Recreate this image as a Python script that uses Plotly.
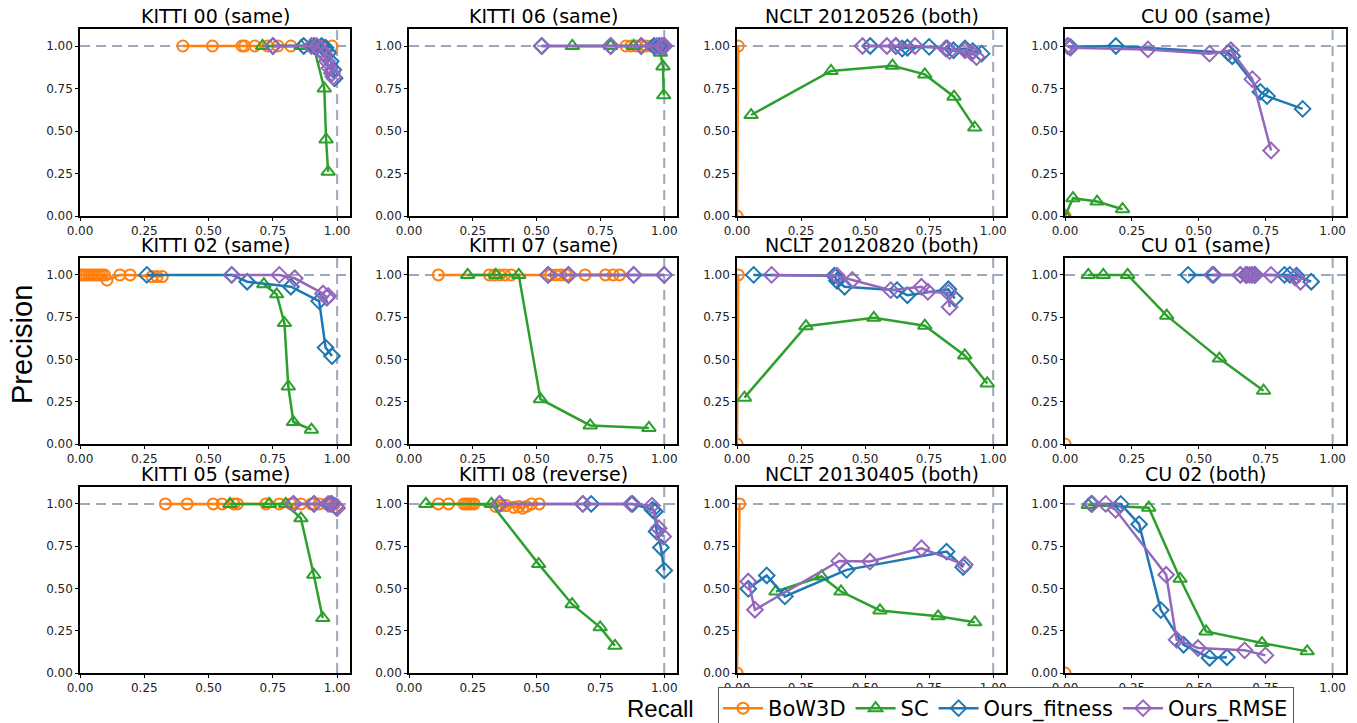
import plotly.graph_objects as go

W, H = 1357, 723

# ---------------- data (recall, precision) ----------------
titles = ["KITTI 00 (same)", "KITTI 06 (same)", "NCLT 20120526 (both)", "CU 00 (same)",
          "KITTI 02 (same)", "KITTI 07 (same)", "NCLT 20120820 (both)", "CU 01 (same)",
          "KITTI 05 (same)", "KITTI 08 (reverse)", "NCLT 20130405 (both)", "CU 02 (both)"]
series_names = ["BoW3D", "SC", "Ours_fitness", "Ours_RMSE"]
tick_vals = [0.0, 0.25, 0.5, 0.75, 1.0]
tick_text = ["0.00", "0.25", "0.50", "0.75", "1.00"]

# KITTI 00
k00_bow_r = [0.40, 0.515, 0.63, 0.64, 0.68, 0.73, 0.77, 0.82, 0.93, 0.95, 0.98]
k00_bow_p = [1.0, 1.0, 1.0, 1.0, 1.0, 1.0, 1.0, 1.0, 1.0, 1.0, 1.0]
k00_sc_r = [0.71, 0.86, 0.91, 0.95, 0.957, 0.965]
k00_sc_p = [1.0, 1.0, 0.99, 0.75, 0.45, 0.26]
k00_fit_r = [0.75, 0.87, 0.91, 0.94, 0.955, 0.965, 0.975, 0.985, 0.99]
k00_fit_p = [1.0, 1.0, 1.0, 1.0, 0.99, 0.96, 0.91, 0.86, 0.81]
k00_rmse_r = [0.75, 0.90, 0.92, 0.935, 0.95, 0.96, 0.97, 0.98, 0.985]
k00_rmse_p = [1.0, 1.0, 1.0, 0.98, 0.95, 0.91, 0.87, 0.84, 0.82]

# KITTI 06
k06_bow_r = [0.85, 0.87, 0.89, 0.91, 0.93, 0.95, 0.97]
k06_bow_p = [1.0, 1.0, 1.0, 1.0, 1.0, 1.0, 1.0]
k06_sc_r = [0.64, 0.79, 0.88, 0.96, 0.985, 0.995, 0.998]
k06_sc_p = [1.0, 1.0, 1.0, 1.0, 0.96, 0.88, 0.71]
k06_fit_r = [0.52, 0.79, 0.91, 0.96, 0.98, 0.99, 1.0]
k06_fit_p = [1.0, 1.0, 1.0, 1.0, 1.0, 1.0, 1.0]
k06_rmse_r = [0.52, 0.79, 0.91, 0.97, 0.99, 1.0]
k06_rmse_p = [1.0, 1.0, 1.0, 1.0, 1.0, 1.0]

# NCLT 20120526
n0526_bow_r = [0.0, 0.005]
n0526_bow_p = [0.0, 1.0]
n0526_sc_r = [0.055, 0.367, 0.607, 0.733, 0.847, 0.928]
n0526_sc_p = [0.594, 0.853, 0.884, 0.833, 0.702, 0.52]
n0526_fit_r = [0.52, 0.62, 0.645, 0.665, 0.75, 0.82, 0.845, 0.89, 0.92, 0.955]
n0526_fit_p = [1.0, 1.0, 0.985, 0.99, 0.995, 0.985, 0.975, 0.985, 0.97, 0.955]
n0526_rmse_r = [0.49, 0.585, 0.62, 0.695, 0.815, 0.83, 0.89, 0.915, 0.935]
n0526_rmse_p = [1.0, 1.0, 1.0, 1.0, 0.985, 0.97, 0.975, 0.96, 0.935]

# CU 00
cu00_bow_r = [0.0]
cu00_bow_p = [0.0]
cu00_sc_r = [0.0, 0.03, 0.12, 0.215]
cu00_sc_p = [0.0, 0.105, 0.085, 0.04]
cu00_fit_r = [0.01, 0.02, 0.19, 0.61, 0.625, 0.73, 0.755, 0.888]
cu00_fit_p = [1.0, 0.995, 1.0, 0.96, 0.94, 0.73, 0.705, 0.63]
cu00_rmse_r = [0.01, 0.02, 0.31, 0.54, 0.62, 0.70, 0.77]
cu00_rmse_p = [1.0, 0.99, 0.98, 0.955, 0.975, 0.805, 0.385]

# KITTI 02
k02_bow_r = [0.005, 0.015, 0.025, 0.035, 0.045, 0.055, 0.065, 0.075, 0.085, 0.095, 0.105, 0.155, 0.195, 0.28, 0.30, 0.32]
k02_bow_p = [1.0, 1.0, 1.0, 1.0, 1.0, 1.0, 1.0, 1.0, 1.0, 1.0, 0.97, 1.0, 1.0, 0.99, 0.99, 0.99]
k02_sc_r = [0.715, 0.765, 0.795, 0.81, 0.83, 0.90]
k02_sc_p = [0.945, 0.885, 0.715, 0.34, 0.13, 0.085]
k02_fit_r = [0.26, 0.59, 0.65, 0.82, 0.93, 0.955, 0.98]
k02_fit_p = [1.0, 1.0, 0.96, 0.93, 0.845, 0.57, 0.52]
k02_rmse_r = [0.59, 0.775, 0.835, 0.945, 0.96, 0.965]
k02_rmse_p = [1.0, 1.0, 0.98, 0.89, 0.865, 0.875]

# KITTI 07
k07_bow_r = [0.115, 0.315, 0.335, 0.355, 0.375, 0.40, 0.555, 0.575, 0.595, 0.615, 0.69, 0.77, 0.80, 0.825]
k07_bow_p = [1.0] * 14
k07_sc_r = [0.23, 0.34, 0.43, 0.515, 0.71, 0.94]
k07_sc_p = [1.0, 1.0, 1.0, 0.265, 0.11, 0.095]
k07_fit_r = [0.545, 0.625, 0.88, 1.0]
k07_fit_p = [1.0, 1.0, 1.0, 1.0]
k07_rmse_r = [0.545, 0.625, 0.88, 1.0]
k07_rmse_p = [1.0, 1.0, 1.0, 1.0]

# NCLT 20120820
n0820_bow_r = [0.0, 0.005]
n0820_bow_p = [0.0, 1.0]
n0820_sc_r = [0.029, 0.269, 0.534, 0.733, 0.889, 0.977]
n0820_sc_p = [0.274, 0.697, 0.746, 0.70, 0.524, 0.358]
n0820_fit_r = [0.065, 0.38, 0.39, 0.42, 0.625, 0.665, 0.825, 0.85]
n0820_fit_p = [1.0, 0.995, 0.965, 0.93, 0.91, 0.88, 0.915, 0.86]
n0820_rmse_r = [0.135, 0.39, 0.45, 0.60, 0.72, 0.745, 0.825, 0.83]
n0820_rmse_p = [1.0, 0.995, 0.97, 0.91, 0.93, 0.90, 0.895, 0.81]

# CU 01
cu01_bow_r = [0.0]
cu01_bow_p = [0.0]
cu01_sc_r = [0.087, 0.143, 0.234, 0.38, 0.577, 0.742]
cu01_sc_p = [1.0, 1.0, 1.0, 0.759, 0.505, 0.315]
cu01_fit_r = [0.46, 0.555, 0.655, 0.68, 0.70, 0.71, 0.82, 0.84, 0.865, 0.92]
cu01_fit_p = [1.0, 1.0, 1.0, 1.0, 1.0, 1.0, 1.0, 1.0, 0.995, 0.96]
cu01_rmse_r = [0.55, 0.655, 0.675, 0.69, 0.70, 0.71, 0.77, 0.86, 0.88]
cu01_rmse_p = [1.0, 1.0, 1.0, 1.0, 1.0, 1.0, 1.0, 0.985, 0.96]

# KITTI 05
k05_bow_r = [0.332, 0.417, 0.518, 0.553, 0.599, 0.612, 0.723, 0.775, 0.82, 0.859, 0.90, 0.93, 0.96, 0.977, 0.99]
k05_bow_p = [1.0] * 15
k05_sc_r = [0.583, 0.736, 0.80, 0.859, 0.909, 0.944]
k05_sc_p = [1.0, 1.0, 1.0, 0.915, 0.581, 0.325]
k05_fit_r = [0.83, 0.91, 0.975, 0.995]
k05_fit_p = [1.0, 1.0, 1.0, 0.985]
k05_rmse_r = [0.83, 0.91, 0.965, 0.98, 0.995, 1.0]
k05_rmse_p = [1.0, 1.0, 1.0, 1.0, 0.985, 0.975]

# KITTI 08
k08_bow_r = [0.115, 0.155, 0.215, 0.225, 0.235, 0.245, 0.255, 0.34, 0.36, 0.38, 0.41, 0.43, 0.445, 0.46, 0.48, 0.51]
k08_bow_p = [1.0, 1.0, 1.0, 1.0, 1.0, 1.0, 1.0, 0.985, 0.99, 0.99, 0.98, 0.985, 0.975, 0.985, 1.0, 1.0]
k08_sc_r = [0.066, 0.323, 0.508, 0.639, 0.749, 0.807]
k08_sc_p = [1.0, 1.0, 0.644, 0.407, 0.27, 0.161]
k08_fit_r = [0.355, 0.681, 0.714, 0.876, 0.954, 0.963, 0.97, 0.987, 1.0]
k08_fit_p = [1.0, 1.0, 1.0, 1.0, 0.965, 0.955, 0.837, 0.742, 0.606]
k08_rmse_r = [0.355, 0.681, 0.87, 0.952, 0.978, 0.996]
k08_rmse_p = [1.0, 1.0, 1.0, 0.99, 0.856, 0.807]

# NCLT 20130405
n0405_bow_r = [0.0, 0.01]
n0405_bow_p = [0.0, 1.0]
n0405_sc_r = [0.152, 0.33, 0.406, 0.558, 0.785, 0.928]
n0405_sc_p = [0.482, 0.571, 0.482, 0.37, 0.335, 0.30]
n0405_fit_r = [0.044, 0.116, 0.187, 0.428, 0.818, 0.883]
n0405_fit_p = [0.498, 0.577, 0.453, 0.61, 0.718, 0.626]
n0405_rmse_r = [0.044, 0.07, 0.399, 0.519, 0.72, 0.889]
n0405_rmse_p = [0.541, 0.374, 0.663, 0.659, 0.738, 0.64]

# CU 02
cu02_bow_r = [0.0]
cu02_bow_p = [0.0]
cu02_sc_r = [0.087, 0.313, 0.43, 0.527, 0.736, 0.905]
cu02_sc_p = [0.994, 0.978, 0.557, 0.246, 0.177, 0.128]
cu02_fit_r = [0.098, 0.208, 0.277, 0.358, 0.443, 0.54, 0.605]
cu02_fit_p = [1.0, 1.0, 0.88, 0.372, 0.167, 0.089, 0.093]
cu02_rmse_r = [0.102, 0.152, 0.189, 0.378, 0.417, 0.497, 0.671, 0.749]
cu02_rmse_p = [1.0, 1.0, 0.965, 0.581, 0.197, 0.148, 0.134, 0.104]

panels = [
    [(k00_bow_r, k00_bow_p), (k00_sc_r, k00_sc_p), (k00_fit_r, k00_fit_p), (k00_rmse_r, k00_rmse_p)],
    [(k06_bow_r, k06_bow_p), (k06_sc_r, k06_sc_p), (k06_fit_r, k06_fit_p), (k06_rmse_r, k06_rmse_p)],
    [(n0526_bow_r, n0526_bow_p), (n0526_sc_r, n0526_sc_p), (n0526_fit_r, n0526_fit_p), (n0526_rmse_r, n0526_rmse_p)],
    [(cu00_bow_r, cu00_bow_p), (cu00_sc_r, cu00_sc_p), (cu00_fit_r, cu00_fit_p), (cu00_rmse_r, cu00_rmse_p)],
    [(k02_bow_r, k02_bow_p), (k02_sc_r, k02_sc_p), (k02_fit_r, k02_fit_p), (k02_rmse_r, k02_rmse_p)],
    [(k07_bow_r, k07_bow_p), (k07_sc_r, k07_sc_p), (k07_fit_r, k07_fit_p), (k07_rmse_r, k07_rmse_p)],
    [(n0820_bow_r, n0820_bow_p), (n0820_sc_r, n0820_sc_p), (n0820_fit_r, n0820_fit_p), (n0820_rmse_r, n0820_rmse_p)],
    [(cu01_bow_r, cu01_bow_p), (cu01_sc_r, cu01_sc_p), (cu01_fit_r, cu01_fit_p), (cu01_rmse_r, cu01_rmse_p)],
    [(k05_bow_r, k05_bow_p), (k05_sc_r, k05_sc_p), (k05_fit_r, k05_fit_p), (k05_rmse_r, k05_rmse_p)],
    [(k08_bow_r, k08_bow_p), (k08_sc_r, k08_sc_p), (k08_fit_r, k08_fit_p), (k08_rmse_r, k08_rmse_p)],
    [(n0405_bow_r, n0405_bow_p), (n0405_sc_r, n0405_sc_p), (n0405_fit_r, n0405_fit_p), (n0405_rmse_r, n0405_rmse_p)],
    [(cu02_bow_r, cu02_bow_p), (cu02_sc_r, cu02_sc_p), (cu02_fit_r, cu02_fit_p), (cu02_rmse_r, cu02_rmse_p)],
]

# ---------------- style ----------------
colors = ["#ff7f0e", "#2ca02c", "#1f77b4", "#9467bd"]
symbols = ["circle-open", "triangle-up-open", "diamond-open", "diamond-open"]
msizes = [11, 12, 12, 12]
REF_COLOR = "#9da8bd"
FONT = "DejaVu Sans"

col_px = [(80, 350), (409, 677), (737, 1006), (1065, 1346)]
row_px = [(29, 216), (258, 444), (487, 673)]


def fx(px):
    return px / W


def fy(py):
    return 1 - py / H


fig = go.Figure()
shapes = []
annotations = []

axis_common = dict(tickvals=tick_vals, ticktext=tick_text, ticks="outside", ticklen=3,
                   tickwidth=1, tickcolor="black", showline=True, linecolor="black",
                   linewidth=1.5, mirror=True, showgrid=False, zeroline=False,
                   automargin=False, tickfont=dict(family=FONT, size=12, color="#222"))

for i, panel in enumerate(panels):
    r, c = divmod(i, 4)
    n = i + 1
    xa = "x" if n == 1 else f"x{n}"
    ya = "y" if n == 1 else f"y{n}"
    x0, x1 = col_px[c]
    y0, y1 = row_px[r]
    fig.update_layout(**{
        ("xaxis" if n == 1 else f"xaxis{n}"): dict(
            domain=[fx(x0), fx(x1)], anchor=ya, range=[0, 1.05], **axis_common),
        ("yaxis" if n == 1 else f"yaxis{n}"): dict(
            domain=[fy(y1), fy(y0)], anchor=xa, range=[0, 1.1], **axis_common),
    })
    # reference dashed lines at recall = 1 and precision = 1
    shapes.append(dict(type="line", xref=xa, yref=f"{ya} domain", x0=1, x1=1, y0=0, y1=1,
                       line=dict(color=REF_COLOR, width=2, dash="10px,6px"), layer="below"))
    shapes.append(dict(type="line", xref=f"{xa} domain", yref=ya, x0=0, x1=1, y0=1, y1=1,
                       line=dict(color=REF_COLOR, width=2, dash="10px,6px"), layer="below"))
    annotations.append(dict(text=titles[i], xref="paper", yref="paper",
                            x=fx((x0 + x1) / 2), y=fy(y0),
                            xanchor="center", yanchor="bottom", showarrow=False,
                            font=dict(family=FONT, size=19, color="black")))
    for s, (rec, prec) in enumerate(panel):
        fig.add_trace(go.Scatter(
            x=rec, y=prec, xaxis=xa, yaxis=ya, mode="lines+markers",
            name=series_names[s], legendgroup=series_names[s], showlegend=(i == 0),
            line=dict(color=colors[s], width=2.5),
            marker=dict(symbol=symbols[s], size=msizes[s], color=colors[s],
                        line=dict(width=2, color=colors[s])),
        ))

annotations.append(dict(text="Precision", xref="paper", yref="paper", x=fx(22), y=fy(345),
                        textangle=-90, showarrow=False, xanchor="center", yanchor="middle",
                        font=dict(family="Liberation Sans", size=29, color="black")))
annotations.append(dict(text="Recall", xref="paper", yref="paper", x=fx(660), y=fy(708),
                        showarrow=False, xanchor="center", yanchor="middle",
                        font=dict(family="Liberation Sans", size=24, color="black")))

fig.update_layout(
    width=W, height=H, margin=dict(l=0, r=0, t=0, b=0, autoexpand=False),
    paper_bgcolor="white", plot_bgcolor="white",
    shapes=shapes, annotations=annotations,
    legend=dict(orientation="h", x=fx(718), y=fy(687), xanchor="left", yanchor="top",
                bordercolor="#555", borderwidth=1, bgcolor="white",
                font=dict(family=FONT, size=21, color="black"),
                itemwidth=40, tracegroupgap=0),
)

fig.write_html("out.html", config={"displayModeBar": False},
               post_script="document.body.style.margin='0';document.body.style.overflow='hidden';")
